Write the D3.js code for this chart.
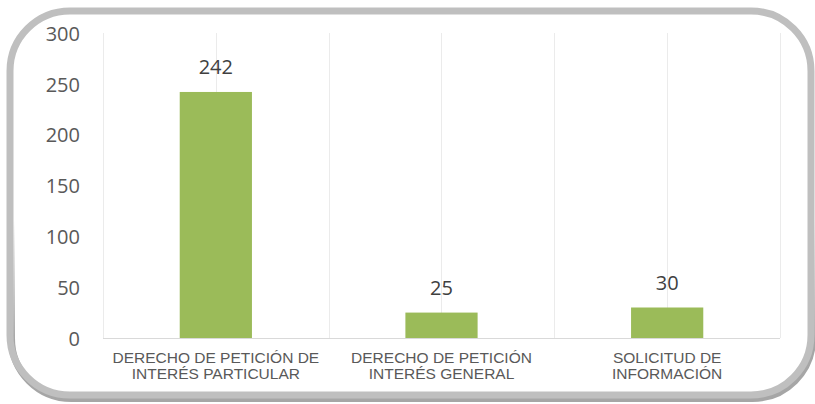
<!DOCTYPE html>
<html>
<head>
<meta charset="utf-8">
<script src="https://cdn.jsdelivr.net/npm/d3@7"></script>
<style>
  body { margin: 0; background: #fff; }
  svg { display: block; }
</style>
</head>
<body>
<div id="chart"></div>
<script>
var categories = [
  ["DERECHO DE PETICIÓN DE", "INTERÉS PARTICULAR"],
  ["DERECHO DE PETICIÓN", "INTERÉS GENERAL"],
  ["SOLICITUD DE", "INFORMACIÓN"]
];
var values = [242, 25, 30];
var yTicks = [0, 50, 100, 150, 200, 250, 300];

var w = 815;
var h = 404;
var plotLeft = 103, plotRight = 780, plotTop = 33, plotBottom = 338;

var svg = d3.select("#chart")
  .append("svg")
  .attr("width", w)
  .attr("height", h);

// outer rounded frame, with a darker shadow fading in toward the bottom
var defs = svg.append("defs");
var grad = defs.append("linearGradient")
  .attr("id", "fade")
  .attr("gradientUnits", "userSpaceOnUse")
  .attr("x1", 0).attr("y1", 220).attr("x2", 0).attr("y2", 340);
grad.append("stop").attr("offset", 0).attr("stop-color", "#fff").attr("stop-opacity", 0);
grad.append("stop").attr("offset", 1).attr("stop-color", "#fff").attr("stop-opacity", 1);
defs.append("mask").attr("id", "lowpart")
  .append("rect").attr("x", 0).attr("y", 0).attr("width", w).attr("height", h)
  .attr("fill", "url(#fade)");

svg.append("rect")
  .attr("mask", "url(#lowpart)")
  .attr("x", 11.5).attr("y", 13.5)
  .attr("width", 801).attr("height", 385)
  .attr("rx", 60).attr("ry", 60)
  .attr("fill", "none")
  .attr("stroke", "#a6a6a6")
  .attr("stroke-width", 7);

svg.append("rect")
  .attr("x", 10).attr("y", 11)
  .attr("width", 801).attr("height", 384)
  .attr("rx", 60).attr("ry", 60)
  .attr("fill", "none")
  .attr("stroke", "#bfbfbf")
  .attr("stroke-width", 7);

var idx = d3.range(categories.length);

var xScale = d3.scaleBand()
  .domain(idx)
  .range([plotLeft, plotRight])
  .padding(0);

var yScale = d3.scaleLinear()
  .domain([0, 300])
  .range([plotBottom, plotTop]);

var bw = xScale.bandwidth();

// vertical gridlines at band edges and band centres
var gridX = [];
idx.forEach(function(i) {
  gridX.push(xScale(i));
  gridX.push(xScale(i) + bw / 2);
});
gridX.push(xScale(idx[idx.length - 1]) + bw);

svg.selectAll("line.grid")
  .data(gridX)
  .enter()
  .append("line")
  .attr("class", "grid")
  .attr("x1", function(d) { return Math.round(d) + 0.5; })
  .attr("x2", function(d) { return Math.round(d) + 0.5; })
  .attr("y1", yScale(300))
  .attr("y2", yScale(0))
  .attr("stroke", "#ebebeb")
  .attr("stroke-width", 1);

// bars
var barW = bw * 0.32;
svg.selectAll("rect.bar")
  .data(values)
  .enter()
  .append("rect")
  .attr("class", "bar")
  .attr("x", function(d, i) { return xScale(i) + bw / 2 - barW / 2; })
  .attr("y", function(d) { return yScale(d); })
  .attr("width", barW)
  .attr("height", function(d) { return yScale(0) - yScale(d); })
  .attr("fill", "#9bbb59");

// value labels
svg.selectAll("text.val")
  .data(values)
  .enter()
  .append("text")
  .attr("class", "val")
  .attr("x", function(d, i) { return xScale(i) + bw / 2; })
  .attr("y", function(d) { return yScale(d) - 18; })
  .attr("text-anchor", "middle")
  .attr("font-family", "'Open Sans', sans-serif")
  .attr("font-size", 20)
  .attr("fill", "#404040")
  .text(function(d) { return d; });

// x axis baseline
svg.append("line")
  .attr("x1", plotLeft).attr("x2", plotRight)
  .attr("y1", plotBottom + 0.5).attr("y2", plotBottom + 0.5)
  .attr("stroke", "#d9d9d9");

// y axis labels
var yAxis = d3.axisLeft(yScale)
  .tickValues(yTicks)
  .tickSize(0)
  .tickPadding(0);

var gy = svg.append("g")
  .attr("transform", "translate(80,0)")
  .call(yAxis);
gy.select(".domain").remove();
gy.selectAll("text")
  .attr("font-family", "'Open Sans', sans-serif")
  .attr("font-size", 20)
  .attr("fill", "#595959")
  .attr("dy", "0.36em");

// category labels
var cat = svg.selectAll("text.cat")
  .data(categories)
  .enter()
  .append("text")
  .attr("class", "cat")
  .attr("text-anchor", "middle")
  .attr("font-family", "'Liberation Sans', Arial, sans-serif")
  .attr("font-size", 15.5)
  .attr("fill", "#595959");

cat.selectAll("tspan")
  .data(function(d, i) { return d.map(function(s) { return { s: s, i: i }; }); })
  .enter()
  .append("tspan")
  .attr("x", function(d) { return xScale(d.i) + bw / 2; })
  .attr("y", function(d, j) { return 363 + j * 15.5; })
  .text(function(d) { return d.s; });
</script>
</body>
</html>
